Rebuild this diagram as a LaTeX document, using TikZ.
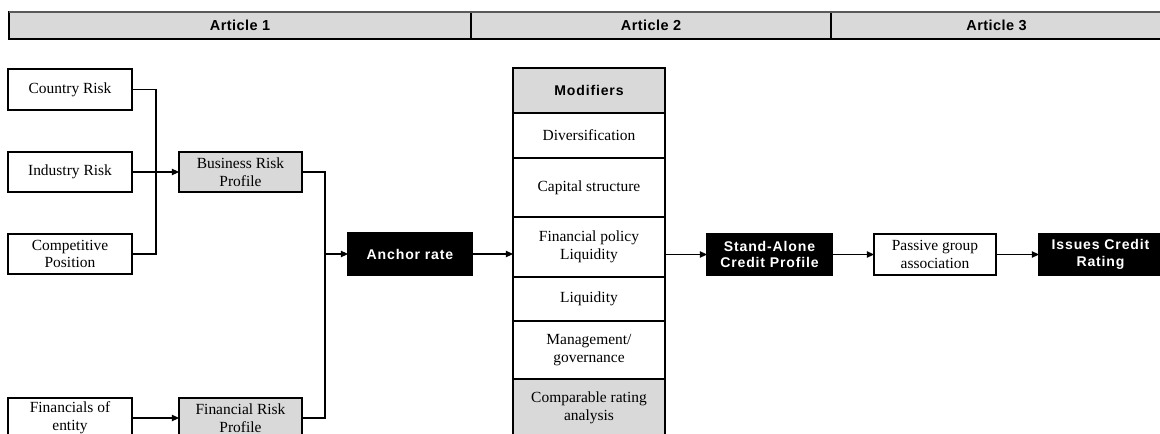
\documentclass[tikz,border=0pt]{standalone}
\usepackage{fontspec}
\setmainfont{Liberation Serif}
\newfontfamily\hdsans[LetterSpace=3]{Liberation Sans}
\newfontfamily\bxsans[LetterSpace=6]{Liberation Sans}
\usetikzlibrary{arrows.meta}
\begin{document}
\begin{tikzpicture}[x=0.025cm,y=-0.025cm,>={Triangle[length=5pt,width=4.5pt]},line width=0.8pt]
  \tikzstyle{box}=[draw, inner sep=1pt, outer sep=0pt, minimum width=3.1cm, minimum height=1.0cm,
    align=center, font=\fontsize{11}{12.5}\selectfont]
  \tikzstyle{grey}=[box, fill=black!15]
  \tikzstyle{dark}=[box, fill=black, text=white, font=\bxsans\bfseries\fontsize{10}{12}\selectfont]
  \tikzstyle{bar}=[draw, fill=black!15, outer sep=0pt, minimum height=0.675cm,
    font=\hdsans\bfseries\fontsize{10.3}{12}\selectfont]
  \tikzstyle{mod}=[box, minimum width=3.8cm]

  \useasboundingbox (0,0) rectangle (1160,434);
  \clip (0,0) rectangle (1160,434);

  % article bar
  \node[bar, minimum width=11.55cm] (art1) at (240,25.5) {Article 1};
  \node[bar, minimum width=9.0cm] (art2) at (651,25.5) {Article 2};
  \node[bar, minimum width=8.275cm] (art3) at (996.5,25.5) {Article 3};
  \draw[black!65, line width=1.3pt] (art1.north west) -- (art3.north east);

  % inputs
  \node[box, minimum height=1.025cm] (cr) at (70,89.5) {Country Risk};
  \node[box] (ir) at (70,172) {Industry Risk};
  \node[box] (cp) at (70,254) {Competitive\\Position};
  \node[box] (fe) at (70,418) {Financials of\\entity};

  \node[grey, minimum width=3.075cm] (brp) at (240.5,172) {Business Risk\\Profile};
  \node[grey, minimum width=3.075cm] (frp) at (240.5,418) {Financial Risk\\Profile};

  \node[dark, minimum height=1.05cm] (anc) at (410,254) {Anchor rate};

  % modifiers column
  \node[mod, fill=black!15, minimum height=1.125cm, font=\bxsans\bfseries\fontsize{10}{12}\selectfont] (mh) at (589,90.5) {Modifiers};
  \node[mod, minimum height=1.125cm] (div) at (589,135.5) {Diversification};
  \node[mod, minimum height=1.475cm] (cap) at (589,187.5) {Capital structure};
  \node[mod, minimum height=1.5cm] (fpl) at (589,247) {Financial policy\\Liquidity};
  \node[mod, minimum height=1.1cm] (liq) at (589,299) {Liquidity};
  \node[mod, minimum height=1.45cm] (mg) at (589,350) {Management/\\governance};
  \node[mod, fill=black!15, minimum height=1.45cm] (cmp) at (589,408) {Comparable rating\\analysis};

  \node[dark, minimum width=3.125cm, minimum height=1.025cm] (sacp) at (769.5,254.5) {Stand-Alone\\Credit Profile};
  \node[box, minimum width=3.05cm, minimum height=1.025cm] (pga) at (935,254.5) {Passive group\\association};
  \node[dark, minimum width=3.075cm, minimum height=1.025cm] (icr) at (1100.5,254.5) {Issues Credit\\Rating};

  % connectors
  \coordinate (jb) at (156,172);
  \coordinate (ja) at (325,254);
  \draw (cr.east) -| (jb);
  \draw (cp.east) -| (jb);
  \draw[->] (ir) -- (brp);
  \draw[->] (fe) -- (frp);
  \draw (brp.east) -| (ja);
  \draw (frp.east) -| (ja);
  \draw[->] (ja) -- (anc);
  \draw[->] (anc.east) -- (anc.east -| fpl.west);
  \draw[->] (sacp.west -| fpl.east) -- (sacp.west);
  \draw[->] (sacp) -- (pga);
  \draw[->] (pga) -- (icr);
\end{tikzpicture}
\end{document}
